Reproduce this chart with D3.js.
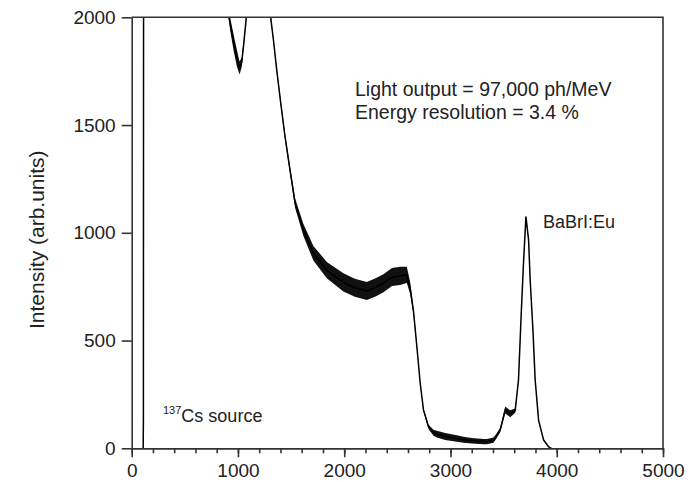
<!DOCTYPE html>
<html>
<head>
<meta charset="utf-8">
<script src="https://cdn.jsdelivr.net/npm/d3@7"></script>
<style>
  body { margin: 0; background: #fff; }
  svg { display: block; font-family: "Liberation Sans", Arial, sans-serif; }
  .label { fill: #222; }
</style>
</head>
<body>
<div id="chart"></div>
<script>
// spectrum: channel, counts, and half width of the noisy band
const energy = [100, 108, 110, 112, 880, 900, 930, 960, 990, 1015, 1035, 1055, 1075, 1090,
  1290, 1310, 1335, 1365, 1403, 1443, 1490, 1538, 1616, 1710, 1836, 1992, 2100, 2213, 2300,
  2369, 2450, 2526, 2589, 2620, 2652, 2684, 2715, 2746, 2793, 2840, 2872, 2950, 3060, 3122,
  3200, 3311, 3343, 3405, 3437, 3468, 3515, 3562, 3609, 3640, 3666, 3687, 3710, 3735, 3750,
  3776, 3797, 3829, 3876, 3923, 3950];
const counts = [0, 0, 130, 2600, 2600, 2050, 1960, 1880, 1810, 1765, 1790, 1880, 1980, 2080,
  2300, 1990, 1890, 1755, 1601, 1446, 1291, 1137, 1013, 905, 827, 770, 745, 730, 748,
  766, 795, 800, 805, 745, 635, 470, 302, 178, 100, 72, 66, 55, 45, 40,
  35, 31, 31, 38, 60, 85, 178, 160, 175, 317, 627, 858, 1075, 967, 781,
  549, 317, 131, 39, 7, 0];
const noise = [0, 0, 0, 0, 0, 15, 30, 38, 38, 30, 22, 14, 8, 0,
  0, 8, 8, 9, 10, 13, 17, 22, 28, 34, 38, 42, 42, 42, 42,
  42, 42, 42, 38, 28, 14, 7, 6, 7, 11, 14, 16, 16, 15, 14,
  13, 12, 12, 12, 11, 10, 16, 16, 10, 5, 5, 5, 6, 5, 4,
  4, 4, 4, 4, 3, 0];

const xTicks = [0, 1000, 2000, 3000, 4000, 5000];
const xMinor = d3.range(0, 5001, 200);
const yTicks = [0, 500, 1000, 1500, 2000];

const width = 695, height = 482;
const margin = { top: 17.3, right: 32, bottom: 33.7, left: 131.7 };

const svg = d3.select("#chart").append("svg")
  .attr("width", width)
  .attr("height", height);

const x = d3.scaleLinear().domain([0, 5000]).range([margin.left, width - margin.right]);
const y = d3.scaleLinear().domain([0, 2000]).range([height - margin.bottom, margin.top]);

svg.append("clipPath").attr("id", "plot-clip")
  .append("rect")
    .attr("x", margin.left)
    .attr("y", margin.top)
    .attr("width", width - margin.left - margin.right)
    .attr("height", height - margin.top - margin.bottom);

const spectrum = energy.map((e, i) => ({ e: e, c: counts[i], n: noise[i] }));

const plot = svg.append("g").attr("clip-path", "url(#plot-clip)");

// noisy band
plot.append("path")
  .datum(spectrum)
  .attr("fill", "#111")
  .attr("d", d3.area()
    .x(d => x(d.e))
    .y0(d => y(d.c - d.n))
    .y1(d => y(d.c + d.n)));

plot.append("path")
  .datum(spectrum)
  .attr("fill", "none")
  .attr("stroke", "#000")
  .attr("stroke-width", 1.5)
  .attr("d", d3.line().x(d => x(d.e)).y(d => y(d.c)));

// frame (top and right)
svg.append("path")
  .attr("fill", "none")
  .attr("stroke", "#333")
  .attr("stroke-width", 1.6)
  .attr("d", `M${margin.left},${margin.top}H${width - margin.right}V${height - margin.bottom}`);

// axes
svg.append("g")
  .attr("transform", `translate(0,${height - margin.bottom})`)
  .call(d3.axisBottom(x).tickValues(xTicks).tickFormat(d3.format("d"))
    .tickSize(9).tickPadding(6).tickSizeOuter(0));

svg.append("g")
  .attr("transform", `translate(0,${height - margin.bottom})`)
  .call(d3.axisBottom(x).tickValues(xMinor).tickSize(5).tickFormat("").tickSizeOuter(0));

svg.append("g")
  .attr("transform", `translate(${margin.left},0)`)
  .call(d3.axisLeft(y).tickValues(yTicks).tickFormat(d3.format("d"))
    .tickSize(10).tickPadding(6).tickSizeOuter(0));

svg.selectAll(".domain, .tick line")
  .attr("stroke", "#333")
  .attr("stroke-width", 1.6);

svg.selectAll(".tick text")
  .attr("fill", "#222")
  .style("font-size", "19px")
  .style("font-family", "'Liberation Sans', Arial, sans-serif");

// y label
svg.append("text")
  .attr("class", "label")
  .attr("fill", "#333")
  .attr("transform", `translate(44,${(margin.top + height - margin.bottom) / 2 + 7}) rotate(-90)`)
  .attr("text-anchor", "middle")
  .style("font-size", "21px")
  .text("Intensity (arb.units)");

// annotations
svg.append("text").attr("class", "label")
  .attr("x", 355).attr("y", 96)
  .style("font-size", "19.5px")
  .text("Light output = 97,000 ph/MeV");

svg.append("text").attr("class", "label")
  .attr("x", 355).attr("y", 119)
  .style("font-size", "19.5px")
  .text("Energy resolution = 3.4 %");

svg.append("text").attr("class", "label")
  .attr("x", 543).attr("y", 228)
  .style("font-size", "18px")
  .text("BaBrI:Eu");

const cs = svg.append("text").attr("class", "label")
  .attr("x", 163).attr("y", 422)
  .style("font-size", "18px");
cs.append("tspan").attr("dy", -8).style("font-size", "11px").text("137");
cs.append("tspan").attr("dy", 8).text("Cs source");
</script>
</body>
</html>
